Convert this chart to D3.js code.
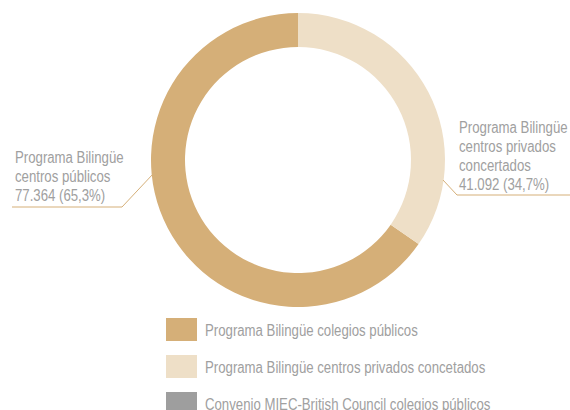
<!DOCTYPE html>
<html><head><meta charset="utf-8">
<script src="https://cdn.jsdelivr.net/npm/d3@7"></script>
<style>
body{margin:0;background:#fff;}
text{font-family:"Liberation Sans",Arial,sans-serif;fill:#a0a0a0;}
</style></head>
<body>
<svg id="chart" width="570" height="410"></svg>
<script>
const categories = ["Programa Bilingüe colegios públicos","Programa Bilingüe centros privados concetados","Convenio MIEC-British Council colegios públicos"];
const values = [77364, 41092, 0];
const colors = ["#d5af78","#eedfc7","#9e9e9e"];
const labelLines = [
  ["Programa Bilingüe","centros públicos","77.364 (65,3%)"],
  ["Programa Bilingüe","centros privados","concertados","41.092 (34,7%)"]
];

const svg = d3.select("#chart");
const cx = 298, cy = 160, rOuter = 147, rInner = 113;
const total = d3.sum(values);
const offset = 2*Math.PI*values[1]/total;
const pie = d3.pie().sort(null).value(d=>d).startAngle(offset).endAngle(offset+2*Math.PI);
const arcs = pie(values);
const arc = d3.arc().innerRadius(rInner).outerRadius(rOuter);
const g = svg.append("g").attr("transform",`translate(${cx},${cy})`);
g.selectAll("path").data(arcs.filter(d=>d.value>0)).join("path")
  .attr("d",arc).attr("fill",(d)=>colors[d.index]);

// leader lines
const lines = [
  [[153,174],[122,207],[12,207]],
  [[443,180],[457,195],[570,195]]
];
svg.selectAll("polyline").data(lines).join("polyline")
  .attr("points",d=>d.map(p=>p.join(",")).join(" "))
  .attr("fill","none").attr("stroke","#d5af78").attr("stroke-width",1);

const fs = 16;
// measure condensation factor
const probe = svg.append("text").attr("font-size",fs).text(categories[0]);
const sx = 213/probe.node().getComputedTextLength();
probe.remove();

// labels
const labelPos = [{x:15,y:163},{x:459,y:133}];
labelLines.forEach((ls,i)=>{
  const gg = svg.append("g").attr("transform",`translate(${labelPos[i].x},${labelPos[i].y}) scale(${sx},1)`);
  const t = gg.append("text").attr("font-size",fs);
  ls.forEach((l,j)=>t.append("tspan").attr("x",0).attr("dy",j?19:0).text(l));
});

// legend
const leg = svg.selectAll("g.leg").data(categories).join("g").attr("class","leg")
  .attr("transform",(d,i)=>`translate(166,${318+i*37})`);
leg.append("rect").attr("width",31).attr("height",23).attr("fill",(d,i)=>colors[i]);
leg.append("g").attr("transform",`translate(39,18) scale(${sx},1)`)
  .append("text").attr("font-size",fs).text(d=>d);
</script>
</body></html>
